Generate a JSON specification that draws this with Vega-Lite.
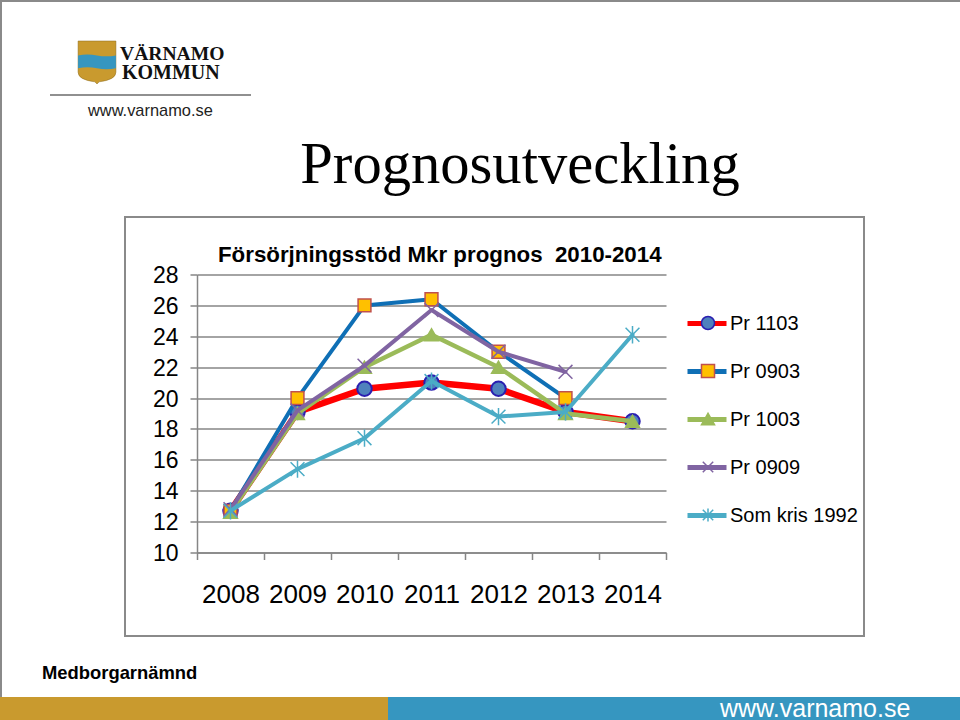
{"$schema":"https://vega.github.io/schema/vega-lite/v6.json","width":469,"height":278,"autosize":{"type":"none"},"padding":{"left":197,"top":274.5,"right":294,"bottom":167.5},"background":"white","config":{"view":{"stroke":null},"font":"Liberation Sans"},
"datasets":{"d":[
{"series":"Pr 1103","year":"2008","value":12.7},{"series":"Pr 1103","year":"2009","value":19.1},{"series":"Pr 1103","year":"2010","value":20.6},{"series":"Pr 1103","year":"2011","value":21.0},{"series":"Pr 1103","year":"2012","value":20.6},{"series":"Pr 1103","year":"2013","value":19.1},{"series":"Pr 1103","year":"2014","value":18.5},
{"series":"Pr 0903","year":"2008","value":12.7},{"series":"Pr 0903","year":"2009","value":20.0},{"series":"Pr 0903","year":"2010","value":26.0},{"series":"Pr 0903","year":"2011","value":26.4},{"series":"Pr 0903","year":"2012","value":23.0},{"series":"Pr 0903","year":"2013","value":20.0},
{"series":"Pr 1003","year":"2008","value":12.6},{"series":"Pr 1003","year":"2009","value":19.0},{"series":"Pr 1003","year":"2010","value":22.0},{"series":"Pr 1003","year":"2011","value":24.1},{"series":"Pr 1003","year":"2012","value":22.0},{"series":"Pr 1003","year":"2013","value":19.0},{"series":"Pr 1003","year":"2014","value":18.5},
{"series":"Pr 0909","year":"2008","value":12.8},{"series":"Pr 0909","year":"2009","value":19.2},{"series":"Pr 0909","year":"2010","value":22.1},{"series":"Pr 0909","year":"2011","value":25.7},{"series":"Pr 0909","year":"2012","value":23.0},{"series":"Pr 0909","year":"2013","value":21.7},
{"series":"Som kris 1992","year":"2008","value":12.7},{"series":"Som kris 1992","year":"2009","value":15.4},{"series":"Som kris 1992","year":"2010","value":17.4},{"series":"Som kris 1992","year":"2011","value":21.1},{"series":"Som kris 1992","year":"2012","value":18.8},{"series":"Som kris 1992","year":"2013","value":19.1},{"series":"Som kris 1992","year":"2014","value":24.1}
]},
"layer":[
{"data":{"values":[{"part":"frame"}]},"mark":{"type":"rect","fill":"transparent","stroke":"#8a8a8a","strokeWidth":2},"encoding":{"x":{"value":-72},"x2":{"value":667},"y":{"value":-57.5},"y2":{"value":361.5}}},
{"data":{"values":[{"part":"left border"}]},"mark":{"type":"rect","fill":"#8a8a8a"},"encoding":{"x":{"value":-197},"x2":{"value":-195},"y":{"value":-274.5},"y2":{"value":422.5}}},
{"data":{"values":[{"part":"top border"}]},"mark":{"type":"rect","fill":"#8a8a8a"},"encoding":{"x":{"value":-197},"x2":{"value":763},"y":{"value":-274.5},"y2":{"value":-272.5}}},
{"data":{"values":[{"part":"footer gold"}]},"mark":{"type":"rect","fill":"#c99a2e"},"encoding":{"x":{"value":-197},"x2":{"value":191},"y":{"value":422.5},"y2":{"value":445.5}}},
{"data":{"values":[{"part":"footer blue"}]},"mark":{"type":"rect","fill":"#3696c0"},"encoding":{"x":{"value":191},"x2":{"value":763},"y":{"value":422.5},"y2":{"value":445.5}}},
{"data":{"values":[{"part":"logo rule"}]},"mark":{"type":"rect","fill":"#222222"},"encoding":{"x":{"value":-147},"x2":{"value":54},"y":{"value":-180},"y2":{"value":-179}}},
{"data":{"values":[{"part":"shield"}]},"mark":{"type":"point","filled":true,"fill":"#c99a2e","stroke":"#8a6a1c","strokeWidth":0.5,"opacity":1,"size":1849,"shape":"M-0.88,-1L0.88,-1L0.88,0.45Q0.88,0.8 0.1,0.9L0,1L-0.1,0.9Q-0.88,0.8 -0.88,0.45Z"},"encoding":{"x":{"value":-100},"y":{"value":-212}}},
{"data":{"values":[{"part":"shield band"}]},"mark":{"type":"point","filled":true,"fill":"#3696c0","opacity":1,"size":1849,"shape":"M-0.88,-0.33Q-0.45,-0.42 0,-0.33T0.88,-0.33L0.88,0.27Q0.45,0.36 0,0.27T-0.88,0.27Z"},"encoding":{"x":{"value":-100},"y":{"value":-212}}},
{"data":{"values":[{"t":"VÄRNAMO"}]},"mark":{"type":"text","font":"Liberation Serif","fontWeight":"bold","fontSize":19.6,"align":"left","baseline":"alphabetic","x":-77,"y":-215,"color":"#111111"},"encoding":{"text":{"field":"t"}}},
{"data":{"values":[{"t":"KOMMUN"}]},"mark":{"type":"text","font":"Liberation Serif","fontWeight":"bold","fontSize":20,"align":"left","baseline":"alphabetic","x":-75,"y":-196,"color":"#111111"},"encoding":{"text":{"field":"t"}}},
{"data":{"values":[{"t":"www.varnamo.se"}]},"mark":{"type":"text","fontSize":16.4,"align":"left","baseline":"alphabetic","x":-109,"y":-158.5,"color":"#222222"},"encoding":{"text":{"field":"t"}}},
{"data":{"values":[{"t":"Prognosutveckling"}]},"mark":{"type":"text","font":"Liberation Serif","fontSize":58.6,"align":"center","baseline":"alphabetic","x":323,"y":-92,"color":"#000000"},"encoding":{"text":{"field":"t"}}},
{"data":{"values":[{"t":"Försörjningsstöd Mkr prognos \u00a02010-2014"}]},"mark":{"type":"text","fontWeight":"bold","fontSize":22.3,"align":"left","baseline":"alphabetic","x":21,"y":-13,"color":"#000000"},"encoding":{"text":{"field":"t"}}},
{"data":{"values":[{"t":"Medborgarnämnd"}]},"mark":{"type":"text","fontWeight":"bold","fontSize":18.4,"align":"left","baseline":"alphabetic","x":-155,"y":404,"color":"#000000"},"encoding":{"text":{"field":"t"}}},
{"data":{"values":[{"t":"www.varnamo.se"}]},"mark":{"type":"text","fontSize":25,"align":"left","baseline":"alphabetic","x":523,"y":442,"color":"#ffffff"},"encoding":{"text":{"field":"t"}}},
{"data":{"name":"d"},"transform":[{"filter":"datum.series==='Pr 1103'"},{"calculate":"datum.series","as":"line"}],"mark":{"type":"line","strokeWidth":6.5,"strokeCap":"round","strokeJoin":"round"},"encoding":{"x":{"field":"year","type":"nominal","scale":{"type":"band","paddingInner":0,"paddingOuter":0,"domain":["2008","2009","2010","2011","2012","2013","2014"]},"axis":{"title":null,"labelAngle":0,"labelFontSize":26,"labelColor":"#000000","labelPadding":22,"tickBand":"extent","tickSize":7,"tickColor":"#868686","tickWidth":1.5,"domainColor":"#868686","domainWidth":1.5,"grid":false}},"y":{"field":"value","type":"quantitative","scale":{"domain":[10,28],"nice":false,"zero":false},"axis":{"title":null,"values":[10,12,14,16,18,20,22,24,26,28],"tickCount":10,"labelOverlap":false,"labelFontSize":23,"labelColor":"#000000","labelPadding":12,"labelOffset":1,"tickSize":7,"tickColor":"#868686","tickWidth":1.5,"domainColor":"#868686","domainWidth":1.5,"gridColor":"#868686","gridWidth":1.5}},"color":{"field":"line","type":"nominal","sort":null,"scale":{"domain":["Pr 1103","Pr 0903","Pr 1003","Pr 0909","Som kris 1992","none"],"range":["#ff0000","#0f6fb5","#9bbb59","#8064a2","#4bacc6","#000000"]},"legend":{"title":null,"values":["Pr 1103","Pr 0903","Pr 1003","Pr 0909","Som kris 1992"],"orient":"none","legendX":488,"legendY":25,"padding":0,"symbolType":"stroke","symbolSize":1521,"symbolStrokeWidth":5,"clipHeight":48,"rowPadding":0,"labelFontSize":20,"labelColor":"#000000","labelOffset":1}}}},
{"data":{"name":"d"},"transform":[{"filter":"datum.series==='Pr 1103'"}],"mark":{"type":"point","opacity":1,"size":210,"strokeWidth":2},"encoding":{"x":{"field":"year","type":"nominal"},"y":{"field":"value","type":"quantitative"},"fill":{"field":"series","type":"nominal","sort":null,"scale":{"domain":["Pr 1103","Pr 0903","Pr 1003","Pr 0909","Som kris 1992"],"range":["#4f81bd","#ffc000","#9bbb59","#8064a2","#4bacc6"]},"legend":{"title":null,"orient":"none","legendX":501,"legendY":24.5,"padding":0,"symbolSize":170,"symbolStrokeWidth":1.5,"clipHeight":48,"rowPadding":0,"labelExpr":"''","labelFontSize":20,"labelOffset":3}},"stroke":{"field":"series","type":"nominal","sort":null,"scale":{"domain":["Pr 1103","Pr 0903","Pr 1003","Pr 0909","Som kris 1992"],"range":["#2a1fb0","#c0504d","#9bbb59","#8064a2","#4bacc6"]}},"shape":{"field":"series","type":"nominal","sort":null,"scale":{"domain":["Pr 1103","Pr 0903","Pr 1003","Pr 0909","Som kris 1992"],"range":["circle","square","triangle-up","M-0.8,-0.8L0.8,0.8M-0.8,0.8L0.8,-0.8","M-0.8,-0.8L0.8,0.8M-0.8,0.8L0.8,-0.8M0,-1L0,1"]}}}},
{"data":{"name":"d"},"transform":[{"filter":"datum.series==='Pr 0903'"},{"calculate":"datum.series","as":"line"}],"mark":{"type":"line","strokeWidth":4,"strokeCap":"round","strokeJoin":"round"},"encoding":{"x":{"field":"year","type":"nominal"},"y":{"field":"value","type":"quantitative"},"color":{"field":"line","type":"nominal","sort":null}}},
{"data":{"name":"d"},"transform":[{"filter":"datum.series==='Pr 0903'"}],"mark":{"type":"point","opacity":1,"size":165,"strokeWidth":1.5},"encoding":{"x":{"field":"year","type":"nominal"},"y":{"field":"value","type":"quantitative"},"fill":{"field":"series","type":"nominal","sort":null},"stroke":{"field":"series","type":"nominal","sort":null},"shape":{"field":"series","type":"nominal","sort":null}}},
{"data":{"name":"d"},"transform":[{"filter":"datum.series==='Pr 1003'"},{"calculate":"datum.series","as":"line"}],"mark":{"type":"line","strokeWidth":4.5,"strokeCap":"round","strokeJoin":"round"},"encoding":{"x":{"field":"year","type":"nominal"},"y":{"field":"value","type":"quantitative"},"color":{"field":"line","type":"nominal","sort":null}}},
{"data":{"name":"d"},"transform":[{"filter":"datum.series==='Pr 1003'"}],"mark":{"type":"point","opacity":1,"size":190,"strokeWidth":1.5},"encoding":{"x":{"field":"year","type":"nominal"},"y":{"field":"value","type":"quantitative"},"fill":{"field":"series","type":"nominal","sort":null},"stroke":{"field":"series","type":"nominal","sort":null},"shape":{"field":"series","type":"nominal","sort":null}}},
{"data":{"name":"d"},"transform":[{"filter":"datum.series==='Pr 0909'"},{"calculate":"datum.series","as":"line"}],"mark":{"type":"line","strokeWidth":4,"strokeCap":"round","strokeJoin":"round"},"encoding":{"x":{"field":"year","type":"nominal"},"y":{"field":"value","type":"quantitative"},"color":{"field":"line","type":"nominal","sort":null}}},
{"data":{"name":"d"},"transform":[{"filter":"datum.series==='Pr 0909'"}],"mark":{"type":"point","opacity":1,"size":300,"strokeWidth":1.5},"encoding":{"x":{"field":"year","type":"nominal"},"y":{"field":"value","type":"quantitative"},"fill":{"field":"series","type":"nominal","sort":null},"stroke":{"field":"series","type":"nominal","sort":null},"shape":{"field":"series","type":"nominal","sort":null}}},
{"data":{"name":"d"},"transform":[{"filter":"datum.series==='Som kris 1992'"},{"calculate":"datum.series","as":"line"}],"mark":{"type":"line","strokeWidth":4,"strokeCap":"round","strokeJoin":"round"},"encoding":{"x":{"field":"year","type":"nominal"},"y":{"field":"value","type":"quantitative"},"color":{"field":"line","type":"nominal","sort":null}}},
{"data":{"name":"d"},"transform":[{"filter":"datum.series==='Som kris 1992'"}],"mark":{"type":"point","opacity":1,"size":300,"strokeWidth":1.5},"encoding":{"x":{"field":"year","type":"nominal"},"y":{"field":"value","type":"quantitative"},"fill":{"field":"series","type":"nominal","sort":null},"stroke":{"field":"series","type":"nominal","sort":null},"shape":{"field":"series","type":"nominal","sort":null}}}
]}
